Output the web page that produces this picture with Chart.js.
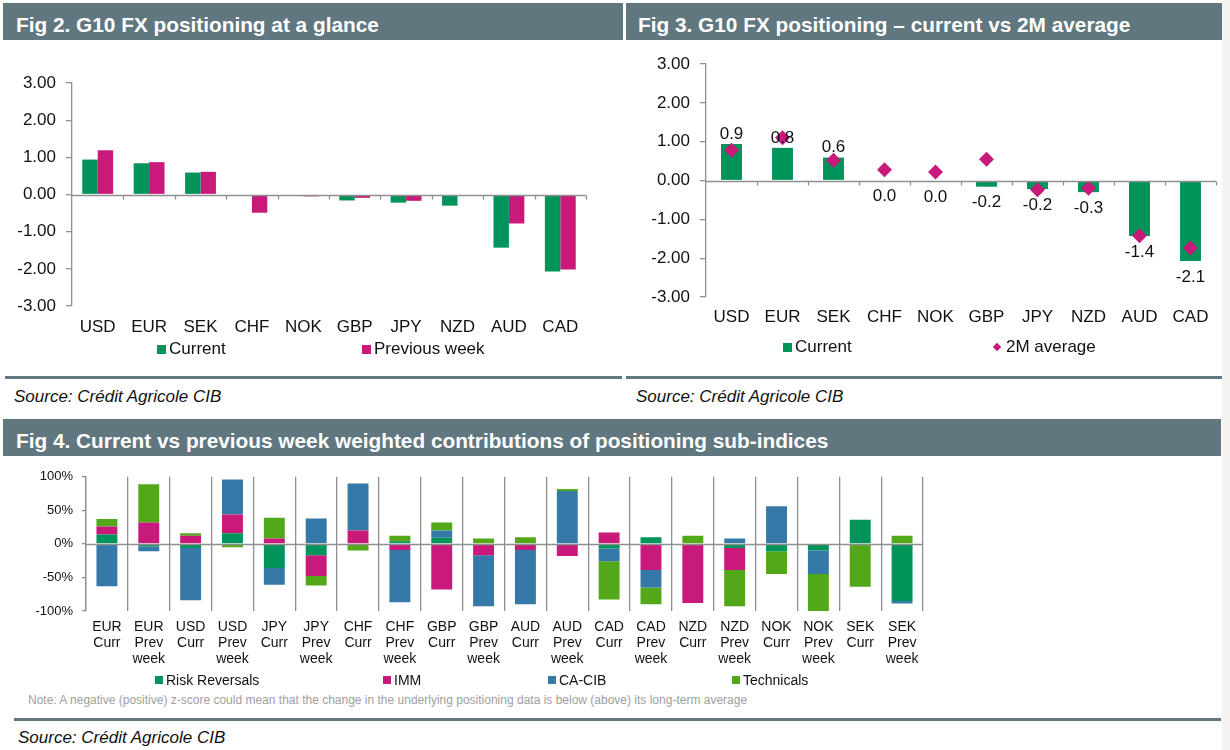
<!DOCTYPE html>
<html>
<head>
<meta charset="utf-8">
<script src="https://cdn.jsdelivr.net/npm/chart.js@4.4.1/dist/chart.umd.min.js"></script>
<style>
  body { margin: 0; background: #fff; font-family: "Liberation Sans", Arial, sans-serif; }
  #page { position: relative; width: 1230px; height: 750px; overflow: hidden; background: #fff; }
  .hdr { position: absolute; height: 37px; background: #60777f; color: #fff; font-weight: bold;
         font-size: 20.8px; line-height: 37px; white-space: nowrap; box-sizing: border-box; }
  .hdr span { position: relative; top: 3px; }
  .rule { position: absolute; height: 3px; background: #60777f; }
  .src { position: absolute; font-style: italic; font-size: 17px; line-height: 20px; color: #111; white-space: nowrap; }
  .note { position: absolute; font-size: 12px; line-height: 14px; color: #a0a0a0; white-space: nowrap; }
  .strip { position: absolute; left: 1222px; top: 0; width: 8px; height: 750px; background: #f4f3ef; }
  canvas { position: absolute; }
  .lg { position: absolute; display: flex; align-items: center; white-space: nowrap; color: #111; }
  .sw { display: inline-block; }
</style>
</head>
<body>
<div id="page">
  <div class="strip"></div>

  <div class="hdr" style="left:3px; top:3px; width:620px; padding-left:13px;"><span>Fig 2. G10 FX positioning at a glance</span></div>
  <div class="hdr" style="left:626px; top:3px; width:596px; padding-left:12px;"><span>Fig 3. G10 FX positioning – current vs 2M average</span></div>
  <div class="hdr" style="left:3px; top:419px; width:1218px; padding-left:13px;"><span>Fig 4. Current vs previous week weighted contributions of positioning sub-indices</span></div>

  <canvas id="fig2" width="610" height="290" style="left:0; top:60px;"></canvas>
  <canvas id="fig3" width="610" height="300" style="left:620px; top:40px;"></canvas>
  <canvas id="fig4" width="960" height="215" style="left:0; top:460px;"></canvas>

  <div class="rule" style="left:5px; top:376px; width:617px;"></div>
  <div class="rule" style="left:626px; top:376px; width:596px;"></div>
  <div class="rule" style="left:14px; top:718px; width:1207px;"></div>

  <div class="src" style="left:14px; top:387px;">Source: Crédit Agricole CIB</div>
  <div class="src" style="left:636px; top:387px;">Source: Crédit Agricole CIB</div>
  <div class="src" style="left:18px; top:728px;">Source: Crédit Agricole CIB</div>

  <div class="note" style="left:28px; top:693px;">Note: A negative (positive) z-score could mean that the change in the underlying positioning data is below (above) its long-term average</div>
</div>

<script>
// Data
const currencies = ['USD', 'EUR', 'SEK', 'CHF', 'NOK', 'GBP', 'JPY', 'NZD', 'AUD', 'CAD'];
const currentZ = [0.94, 0.84, 0.59, 0.0, -0.03, -0.16, -0.22, -0.30, -1.43, -2.07];
const previousZ = [1.19, 0.87, 0.61, -0.49, -0.05, -0.09, -0.17, 0.0, -0.78, -2.02];
const avg2mZ = [0.78, 1.10, 0.52, 0.28, 0.22, 0.55, -0.24, -0.20, -1.42, -1.74];
const zTicks = [-3, -2, -1, 0, 1, 2, 3];

const subLabels = [
    ['EUR', 'Curr'], ['EUR', 'Prev', 'week'], ['USD', 'Curr'], ['USD', 'Prev', 'week'],
    ['JPY', 'Curr'], ['JPY', 'Prev', 'week'], ['CHF', 'Curr'], ['CHF', 'Prev', 'week'],
    ['GBP', 'Curr'], ['GBP', 'Prev', 'week'], ['AUD', 'Curr'], ['AUD', 'Prev', 'week'],
    ['CAD', 'Curr'], ['CAD', 'Prev', 'week'], ['NZD', 'Curr'], ['NZD', 'Prev', 'week'],
    ['NOK', 'Curr'], ['NOK', 'Prev', 'week'], ['SEK', 'Curr'], ['SEK', 'Prev', 'week']
];
const riskReversals = [14, -4, -6, 16, -36, -17, 0, 4, 9, 0, 0, 0, -7, 10, 0, -6, -11, -10, 36, -85];
const imm = [12, 32, 12, 28, 8, -31, 20, -9, -68, -17, -9, -18, 17, -39, -88, -33, 0, 0, 0, 0];
const caCib = [-63, -7, -78, 52, -25, 38, 70, -78, 11, -76, -81, 79, -19, -26, 0, 8, 56, -35, 0, -4];
const technicals = [11, 57, 4, -5, 31, -14, -10, 8, 12, 8, 10, 3, -57, -25, 12, -54, -34, -56, -64, 12];

// Colours
const GREEN = '#00935a';
const MAGENTA = '#c9197a';
const BLUE = '#3579a8';
const LIME = '#53a81a';
const AXIS = '#8f8f8f';

Chart.defaults.font.family = '"Liberation Sans", Arial, sans-serif';
Chart.defaults.color = '#111';
Chart.defaults.animation = false;

// Zero line drawn over the bars, with small ticks at category boundaries
const zeroAxis = {
    id: 'zeroAxis',
    afterDatasetsDraw(chart, args, opts) {
        const { ctx, chartArea, scales } = chart;
        const y0 = Math.round(scales.y.getPixelForValue(0)) + 0.5;
        ctx.save();
        ctx.strokeStyle = AXIS;
        ctx.lineWidth = 1.3;
        ctx.beginPath();
        ctx.moveTo(chartArea.left, y0);
        ctx.lineTo(chartArea.right, y0);
        if (opts.tick) {
            const n = scales.x.ticks.length;
            for (let i = 1; i <= n; i++) {
                const x = Math.round(scales.x.getPixelForValue(i - 0.5)) + 0.5;
                ctx.moveTo(x, y0);
                ctx.lineTo(x, y0 + opts.tick);
            }
        }
        ctx.stroke();
        ctx.restore();
    }
};

// Value labels for fig 3 bars
const barLabels = {
    id: 'barLabels',
    afterDatasetsDraw(chart) {
        const { ctx } = chart;
        const meta = chart.getDatasetMeta(1);
        ctx.save();
        ctx.font = '17px "Liberation Sans", Arial, sans-serif';
        ctx.fillStyle = '#111';
        ctx.textAlign = 'center';
        ctx.textBaseline = 'middle';
        meta.data.forEach((bar, i) => {
            const v = currentZ[i];
            const txt = Math.abs(v) < 0.05 ? '0.0' : v.toFixed(1);
            const y = v > 0.05 ? bar.y - 10 : bar.y + 16;
            ctx.fillText(txt, bar.x, y);
        });
        ctx.restore();
    }
};

function zScaleY(width) {
    return {
        min: -3,
        max: 3,
        afterFit: s => { s.width = width; },
        afterBuildTicks: s => { s.ticks = zTicks.map(v => ({ value: v })); },
        border: { display: true, color: AXIS, width: 1.3 },
        grid: { drawOnChartArea: false, drawTicks: true, tickLength: 6, color: AXIS, lineWidth: 1.3 },
        ticks: { font: { size: 17 }, padding: 10, callback: v => v.toFixed(2) }
    };
}

function catScaleX(height, padding, size) {
    return {
        afterFit: s => { s.height = height; },
        border: { display: false },
        grid: { display: false, drawTicks: false },
        ticks: { font: { size: size }, padding: padding, maxRotation: 0, autoSkip: false }
    };
}

// Fig 2
new Chart(document.getElementById('fig2'), {
    type: 'bar',
    data: {
        labels: currencies,
        datasets: [
            { label: 'Current', data: currentZ, backgroundColor: GREEN },
            { label: 'Previous week', data: previousZ, backgroundColor: MAGENTA }
        ]
    },
    options: {
        responsive: false,
        events: [],
        layout: { padding: { left: 0, right: 24, top: 23, bottom: 0 } },
        datasets: { bar: { categoryPercentage: 0.6, barPercentage: 1.0 } },
        scales: { x: catScaleX(44, 11, 17), y: zScaleY(72) },
        plugins: { legend: { display: false }, tooltip: { enabled: false }, zeroAxis: { tick: 4 } }
    },
    plugins: [zeroAxis]
});

// Fig 3
new Chart(document.getElementById('fig3'), {
    type: 'bar',
    data: {
        labels: currencies,
        datasets: [
            {
                type: 'line', label: '2M average', data: avg2mZ, showLine: false,
                pointStyle: 'rectRot', pointRadius: 7.5, backgroundColor: MAGENTA,
                borderWidth: 0, order: 0
            },
            { label: 'Current', data: currentZ, backgroundColor: GREEN, order: 1 }
        ]
    },
    options: {
        responsive: false,
        events: [],
        layout: { padding: { left: 0, right: 14, top: 24, bottom: 0 } },
        datasets: { bar: { categoryPercentage: 1.0, barPercentage: 0.41 } },
        scales: { x: catScaleX(43, 10, 17), y: zScaleY(86) },
        plugins: { legend: { display: false }, tooltip: { enabled: false }, zeroAxis: { tick: 4 } }
    },
    plugins: [zeroAxis, barLabels]
});

// Fig 4
new Chart(document.getElementById('fig4'), {
    type: 'bar',
    data: {
        labels: subLabels,
        datasets: [
            { label: 'Risk Reversals', data: riskReversals, backgroundColor: GREEN },
            { label: 'IMM', data: imm, backgroundColor: MAGENTA },
            { label: 'CA-CIB', data: caCib, backgroundColor: BLUE },
            { label: 'Technicals', data: technicals, backgroundColor: LIME }
        ]
    },
    options: {
        responsive: false,
        events: [],
        layout: { padding: { left: 0, right: 37, top: 14, bottom: 0 } },
        datasets: { bar: { categoryPercentage: 1.0, barPercentage: 0.5 } },
        scales: {
            x: {
                stacked: true,
                afterFit: s => { s.height = 64; },
                border: { display: false },
                grid: { display: true, offset: true, drawOnChartArea: true, drawTicks: false, color: AXIS, lineWidth: 1.3 },
                ticks: { font: { size: 14, lineHeight: 16 / 14 }, padding: 8, maxRotation: 0, autoSkip: false }
            },
            y: {
                stacked: true,
                min: -100,
                max: 100,
                afterFit: s => { s.width = 86; },
                border: { display: true, color: AXIS, width: 1.3 },
                grid: { drawOnChartArea: false, drawTicks: true, tickLength: 4, color: AXIS, lineWidth: 1.3 },
                ticks: { stepSize: 50, font: { size: 13 }, padding: 9, callback: v => v + '%' }
            }
        },
        plugins: { legend: { display: false }, tooltip: { enabled: false }, zeroAxis: { tick: 0 } }
    },
    plugins: [zeroAxis]
});

// HTML legends, built from the series names and colours
const page = document.getElementById('page');
function addLegend(items, top, fontSize, box) {
    items.forEach(it => {
        const el = document.createElement('div');
        el.className = 'lg';
        el.style.left = it.left + 'px';
        el.style.top = top + 'px';
        el.style.fontSize = fontSize + 'px';
        el.style.lineHeight = '20px';
        const sw = document.createElement('span');
        sw.className = 'sw';
        sw.style.background = it.color;
        if (it.diamond) {
            sw.style.width = '6px';
            sw.style.height = '6px';
            sw.style.transform = 'rotate(45deg)';
            sw.style.margin = '0 6px 0 1px';
        } else {
            sw.style.width = box + 'px';
            sw.style.height = box + 'px';
            sw.style.marginRight = '3px';
        }
        el.appendChild(sw);
        el.appendChild(document.createTextNode(it.label));
        page.appendChild(el);
    });
}

addLegend([
    { label: 'Current', color: GREEN, left: 157 },
    { label: 'Previous week', color: MAGENTA, left: 362 }
], 339, 17, 9);

addLegend([
    { label: 'Current', color: GREEN, left: 783 },
    { label: '2M average', color: MAGENTA, left: 993, diamond: true }
], 337, 17, 9);

addLegend([
    { label: 'Risk Reversals', color: GREEN, left: 155 },
    { label: 'IMM', color: MAGENTA, left: 383 },
    { label: 'CA-CIB', color: BLUE, left: 548 },
    { label: 'Technicals', color: LIME, left: 732 }
], 670, 14, 8);
</script>
</body>
</html>
